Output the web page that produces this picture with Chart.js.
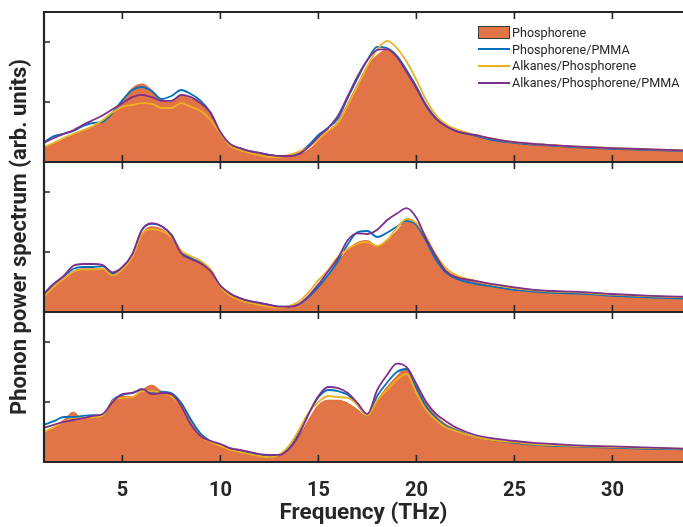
<!DOCTYPE html>
<html>
<head>
<meta charset="utf-8">
<script src="https://cdn.jsdelivr.net/npm/chart.js@4.4.1/dist/chart.umd.min.js"></script>
<style>
  body { margin: 0; background: #fff; }
  #wrap { position: relative; width: 683px; height: 527px; overflow: hidden; }
  #legend { position: absolute; left: 478px; top: 24px; font: 12.6px Roboto, sans-serif; color: #262626; }
  .item { display: flex; align-items: center; height: 16.8px; white-space: nowrap; }
  .sym { width: 32px; margin-right: 2px; box-sizing: border-box; }
</style>
</head>
<body>
<div id="wrap">
  <canvas id="chart" width="683" height="527"></canvas>
  <div id="legend"></div>
</div>
<script>
const freq = [1, 1.5, 2, 2.5, 3, 3.5, 4, 4.5, 5, 5.5, 6, 6.5, 7, 7.5, 8, 8.5, 9, 9.5, 10, 10.5,
  11, 11.5, 12, 12.5, 13, 13.5, 14, 14.5, 15, 15.5, 16, 16.5, 17, 17.5, 18, 18.5, 19, 19.5, 20, 20.5,
  21, 21.5, 22, 23, 24, 25, 26, 27, 28, 30, 32, 34];
const xTicks = [5, 10, 15, 20, 25, 30];
const yTicks = [1, 2];
const names = ["Phosphorene", "Phosphorene/PMMA", "Alkanes/Phosphorene", "Alkanes/Phosphorene/PMMA"];

// top panel
const phosTop = [0.23,0.30,0.38,0.45,0.52,0.60,0.68,0.83,1.03,1.23,
  1.30,1.20,1.03,1.00,1.12,1.05,0.98,0.78,0.48,0.28,
  0.22,0.17,0.13,0.10,0.08,0.08,0.12,0.20,0.35,0.52,
  0.68,0.98,1.30,1.60,1.78,1.87,1.77,1.53,1.27,0.93,
  0.72,0.60,0.52, 0.43,0.36,0.32,0.28,0.26,0.24,0.21,0.19,0.17];
const pmmaTop = [0.33,0.43,0.47,0.52,0.60,0.65,0.67,0.82,1.03,1.20,
  1.25,1.18,1.05,1.10,1.20,1.13,1.02,0.82,0.48,0.28,
  0.23,0.18,0.15,0.12,0.10,0.10,0.15,0.28,0.45,0.57,
  0.73,1.07,1.40,1.70,1.92,1.90,1.77,1.53,1.25,0.95,
  0.73,0.60,0.52, 0.44,0.36,0.32,0.29,0.27,0.25,0.22,0.20,0.18];
const alkTop = [0.25,0.32,0.40,0.47,0.53,0.60,0.70,0.83,0.92,0.95,
  0.98,0.97,0.90,0.90,0.98,0.92,0.85,0.70,0.47,0.27,
  0.20,0.15,0.12,0.08,0.08,0.12,0.17,0.25,0.38,0.52,
  0.65,0.95,1.27,1.60,1.87,2.02,1.90,1.67,1.37,1.03,
  0.78,0.63,0.55, 0.45,0.38,0.33,0.30,0.28,0.26,0.23,0.21,0.19];
const alkPmmaTop = [0.32,0.40,0.47,0.53,0.62,0.70,0.78,0.88,0.98,1.08,
  1.12,1.08,1.02,1.02,1.12,1.08,0.98,0.82,0.50,0.30,
  0.23,0.18,0.15,0.12,0.10,0.10,0.13,0.25,0.42,0.57,
  0.77,1.10,1.43,1.70,1.87,1.88,1.75,1.50,1.23,0.93,
  0.72,0.60,0.52, 0.45,0.38,0.33,0.30,0.28,0.26,0.23,0.21,0.19];

// middle panel
const phosMid = [0.27,0.44,0.56,0.68,0.72,0.72,0.72,0.62,0.72,0.93,
  1.31,1.42,1.38,1.25,1.00,0.89,0.82,0.70,0.42,0.29,
  0.21,0.17,0.13,0.10,0.07,0.07,0.12,0.24,0.40,0.60,
  0.82,1.04,1.16,1.19,1.10,1.18,1.35,1.50,1.45,1.20,
  0.90,0.70,0.60, 0.50,0.43,0.38,0.35,0.33,0.32,0.28,0.25,0.23];
const pmmaMid = [0.31,0.47,0.59,0.72,0.75,0.75,0.76,0.64,0.74,0.96,
  1.37,1.47,1.43,1.29,1.00,0.90,0.82,0.70,0.43,0.30,
  0.22,0.18,0.15,0.12,0.09,0.09,0.13,0.25,0.42,0.62,
  0.85,1.13,1.33,1.35,1.25,1.32,1.42,1.52,1.45,1.18,
  0.87,0.66,0.56, 0.47,0.42,0.37,0.34,0.32,0.31,0.27,0.24,0.22];
const alkMid = [0.25,0.42,0.55,0.67,0.71,0.71,0.72,0.61,0.71,0.92,
  1.30,1.38,1.35,1.25,1.02,0.93,0.85,0.71,0.42,0.27,
  0.20,0.15,0.12,0.09,0.07,0.10,0.17,0.33,0.53,0.70,
  0.92,1.05,1.14,1.17,1.10,1.20,1.40,1.55,1.48,1.25,
  0.95,0.73,0.62, 0.52,0.45,0.40,0.36,0.34,0.33,0.29,0.26,0.24];
const alkPmmaMid = [0.30,0.47,0.60,0.77,0.80,0.80,0.78,0.66,0.75,0.96,
  1.37,1.48,1.43,1.28,0.98,0.88,0.81,0.68,0.44,0.31,
  0.23,0.18,0.15,0.12,0.09,0.09,0.13,0.27,0.46,0.68,
  0.90,1.20,1.31,1.30,1.37,1.53,1.64,1.73,1.57,1.22,
  0.93,0.68,0.58, 0.52,0.46,0.41,0.37,0.35,0.34,0.30,0.27,0.25];

// bottom panel
const phosBot = [0.48,0.57,0.70,0.83,0.71,0.75,0.78,1.02,1.10,1.09,
  1.20,1.28,1.18,1.14,1.00,0.72,0.46,0.34,0.26,0.20,
  0.17,0.13,0.10,0.08,0.10,0.20,0.42,0.70,0.95,1.03,
  1.03,0.98,0.87,0.75,1.03,1.25,1.43,1.57,1.28,0.98,
  0.77,0.63,0.55, 0.42,0.35,0.32,0.28,0.27,0.25,0.23,0.22,0.20];
const pmmaBot = [0.62,0.68,0.75,0.75,0.77,0.78,0.77,1.03,1.12,1.15,
  1.20,1.17,1.17,1.15,0.98,0.70,0.47,0.35,0.28,0.22,
  0.18,0.15,0.12,0.10,0.12,0.23,0.48,0.80,1.08,1.20,
  1.18,1.12,0.95,0.77,1.10,1.32,1.50,1.55,1.23,0.92,
  0.73,0.60,0.53, 0.42,0.36,0.32,0.29,0.27,0.26,0.24,0.22,0.21];
const alkBot = [0.50,0.58,0.67,0.72,0.73,0.75,0.77,1.02,1.07,1.08,
  1.18,1.18,1.15,1.10,0.93,0.63,0.43,0.33,0.27,0.20,
  0.17,0.13,0.10,0.08,0.12,0.27,0.53,0.82,1.00,1.10,
  1.08,1.07,0.95,0.77,1.03,1.20,1.37,1.47,1.15,0.87,
  0.70,0.58,0.52, 0.42,0.36,0.33,0.30,0.28,0.27,0.25,0.23,0.22];
const alkPmmaBot = [0.57,0.62,0.67,0.70,0.73,0.77,0.80,1.00,1.13,1.15,
  1.22,1.13,1.15,1.13,0.93,0.62,0.43,0.35,0.30,0.23,
  0.20,0.17,0.13,0.12,0.12,0.22,0.45,0.80,1.10,1.25,
  1.23,1.15,0.98,0.80,1.20,1.45,1.64,1.58,1.30,1.00,
  0.80,0.68,0.58, 0.45,0.39,0.35,0.32,0.30,0.28,0.26,0.24,0.22];

const fillColor = "rgba(217,83,25,0.8)";
const lineColors = ["#0072BD", "#EDB120", "#7E2F8E"];
const axisColor = "#262626";
const font = "Roboto";

const pts = arr => arr.map((v, i) => ({ x: freq[i], y: v }));

function panel(axis, phos, pmma, alk, alkPmma) {
  const base = { yAxisID: axis, pointRadius: 0, cubicInterpolationMode: "monotone", borderWidth: 1.8 };
  return [
    { ...base, label: names[0], data: pts(phos), fill: "origin", backgroundColor: fillColor, borderColor: fillColor, borderWidth: 1, order: 4 },
    { ...base, label: names[1], data: pts(pmma), borderColor: lineColors[0], fill: false, order: 3 },
    { ...base, label: names[2], data: pts(alk), borderColor: lineColors[1], fill: false, order: 2 },
    { ...base, label: names[3], data: pts(alkPmma), borderColor: lineColors[2], fill: false, order: 1 }
  ];
}

const yAxis = (weight, title) => ({
  type: "linear",
  stack: "panels",
  stackWeight: 1,
  weight: weight,
  position: "left",
  min: 0,
  max: 2.5,
  afterBuildTicks: s => { s.ticks = yTicks.map(v => ({ value: v })); },
  afterFit: s => { s.width = 44; },
  ticks: { display: false },
  grid: { display: false },
  border: { display: false },
  title: title ? {
    display: true,
    text: title,
    color: axisColor,
    font: { family: font, size: 22, weight: "bold" },
    padding: { top: 7, bottom: 0 }
  } : { display: false }
});

// draws the box round each panel with inward tick marks
const framePlugin = {
  id: "frame",
  afterDatasetsDraw(chart) {
    const { ctx, chartArea, scales } = chart;
    const x = scales.x;
    ctx.save();
    ctx.strokeStyle = axisColor;
    ["yTop", "yMid", "yBot"].forEach(id => {
      const s = scales[id];
      ctx.lineWidth = 2.2;
      ctx.beginPath();
      ctx.moveTo(chartArea.right, s.top);
      ctx.lineTo(chartArea.left, s.top);
      ctx.lineTo(chartArea.left, s.bottom);
      ctx.lineTo(chartArea.right, s.bottom);
      ctx.stroke();
      ctx.lineWidth = 1.6;
      ctx.beginPath();
      x.ticks.forEach(t => {
        const px = x.getPixelForValue(t.value);
        ctx.moveTo(px, s.top); ctx.lineTo(px, s.top + 7);
        ctx.moveTo(px, s.bottom); ctx.lineTo(px, s.bottom - 7);
      });
      s.ticks.forEach(t => {
        const py = s.getPixelForValue(t.value);
        ctx.moveTo(chartArea.left, py); ctx.lineTo(chartArea.left + 6, py);
      });
      ctx.stroke();
    });
    ctx.restore();
  }
};

new Chart(document.getElementById("chart"), {
  type: "line",
  data: {
    datasets: [
      ...panel("yTop", phosTop, pmmaTop, alkTop, alkPmmaTop),
      ...panel("yMid", phosMid, pmmaMid, alkMid, alkPmmaMid),
      ...panel("yBot", phosBot, pmmaBot, alkBot, alkPmmaBot)
    ]
  },
  options: {
    responsive: false,
    animation: false,
    layout: { padding: { top: 12, right: 0, bottom: 0, left: 0 } },
    plugins: { legend: { display: false }, tooltip: { enabled: false } },
    scales: {
      x: {
        type: "linear",
        min: 1,
        max: 33.6,
        afterBuildTicks: s => { s.ticks = xTicks.map(v => ({ value: v })); },
        afterFit: s => { s.height = 65; },
        grid: { display: false },
        border: { display: false },
        ticks: { color: axisColor, padding: 9, font: { family: font, size: 20, weight: "bold" } },
        title: {
          display: true,
          text: "Frequency (THz)",
          color: axisColor,
          font: { family: font, size: 22.5, weight: "bold" },
          padding: { top: 0, bottom: 0 }
        }
      },
      yTop: yAxis(3),
      yMid: yAxis(2, "Phonon power spectrum (arb. units)"),
      yBot: yAxis(1)
    }
  },
  plugins: [framePlugin]
});

// legend drawn over the top panel
const legend = document.getElementById("legend");
names.forEach((name, i) => {
  const item = document.createElement("div");
  item.className = "item";
  const sym = document.createElement("span");
  sym.className = "sym";
  if (i === 0) {
    sym.style.height = "13px";
    sym.style.background = fillColor;
    sym.style.border = "1px solid #3a3a3a";
  } else {
    sym.style.height = "2px";
    sym.style.background = lineColors[i - 1];
  }
  item.appendChild(sym);
  item.appendChild(document.createTextNode(name));
  legend.appendChild(item);
});
</script>
</body>
</html>
